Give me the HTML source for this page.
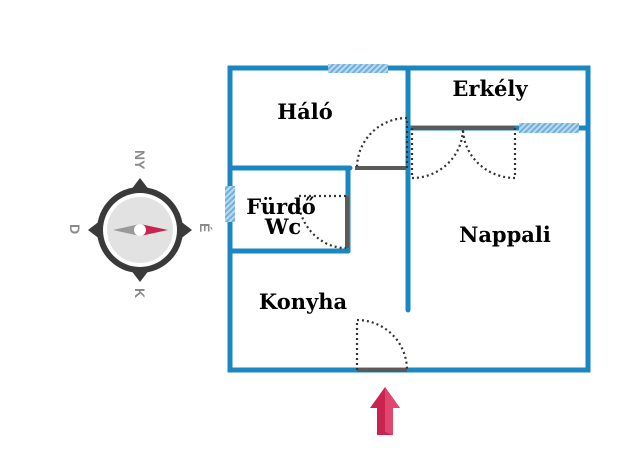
<!DOCTYPE html>
<html><head><style>
html,body{margin:0;padding:0;background:#fff;width:640px;height:470px;overflow:hidden}
svg text{font-family:"DejaVu Serif","Liberation Serif",serif;font-weight:bold}
</style></head><body>
<svg width="640" height="470" viewBox="0 0 640 470" xmlns="http://www.w3.org/2000/svg">
<defs>
<pattern id="h" width="4" height="4" patternUnits="userSpaceOnUse" patternTransform="rotate(45)">
<rect width="4" height="4" fill="#bcd9ee"/><rect width="2" height="4" fill="#6fb0de"/>
</pattern>
</defs>
<g stroke="#1a87c2" stroke-width="5" fill="none" stroke-linecap="round">
<rect x="230" y="68" width="358" height="302"/>
<line x1="408" y1="68" x2="408" y2="310"/>
<line x1="230" y1="168" x2="350" y2="168"/>
<line x1="348" y1="168" x2="348" y2="251"/>
<line x1="230" y1="251" x2="348" y2="251"/>
<line x1="408" y1="128" x2="588" y2="128"/>
</g>
<rect x="328" y="64" width="60" height="9" fill="url(#h)"/>
<rect x="519" y="123" width="60" height="10" fill="url(#h)"/>
<rect x="225" y="186" width="10" height="36" fill="url(#h)"/>
<g stroke="#5a5a5a" stroke-width="4">
<line x1="355" y1="168" x2="406" y2="168"/>
<line x1="412" y1="128" x2="515" y2="128"/>
<line x1="347" y1="196" x2="347" y2="248"/>
<line x1="357" y1="370" x2="407" y2="370"/>
</g>
<g stroke="#333" stroke-width="2.2" fill="none" stroke-dasharray="2 3">
<path d="M357,370 V320 A50,50 0 0 1 407,370"/>
<path d="M407,168 V118 A50,50 0 0 0 357,168"/>
<path d="M412,128 V178 A51,50 0 0 0 463,128"/>
<path d="M515,128 V178 A52,50 0 0 1 463,128"/>
<path d="M346,196 H298 A48,52 0 0 0 346,248"/>
</g>
<text x="305" y="119" font-size="21" text-anchor="middle">Háló</text>
<text x="490" y="96" font-size="21" text-anchor="middle">Erkély</text>
<text x="281" y="214" font-size="21" text-anchor="middle">Fürdő</text>
<text x="283" y="234" font-size="21" text-anchor="middle">Wc</text>
<text x="505" y="242" font-size="21" text-anchor="middle">Nappali</text>
<text x="303" y="309" font-size="21" text-anchor="middle">Konyha</text>
<polygon points="385,387 400,408 393,408 393,435 377,435 377,408 370,408" fill="#c8244f"/>
<polygon points="385,387 400,408 393,408 393,435 385,432" fill="#e0466e"/>
<g>
<polygon points="140,178 153,195 127,195" fill="#3a3a3a"/>
<polygon points="140,282 153,265 127,265" fill="#3a3a3a"/>
<polygon points="88,230 105,217 105,243" fill="#3a3a3a"/>
<polygon points="192,230 175,217 175,243" fill="#3a3a3a"/>
<circle cx="140" cy="230" r="43" fill="#3a3a3a"/>
<circle cx="140" cy="230" r="37" fill="#fff"/>
<circle cx="140" cy="230" r="33" fill="#e2e2e2"/>
<polygon points="113,230 140,224 140,236" fill="#999"/>
<polygon points="168,230 140,224 140,236" fill="#c8244f"/>
<circle cx="140" cy="230" r="6" fill="#fff"/>
</g>
<g fill="#8a8a8a" font-size="14">
<text transform="translate(135,150) rotate(90)" style="font-family:'Liberation Sans',sans-serif;font-weight:bold">NY</text>
<text transform="translate(135,288) rotate(90)" style="font-family:'Liberation Sans',sans-serif;font-weight:bold">K</text>
<text transform="translate(70,224) rotate(90)" style="font-family:'Liberation Sans',sans-serif;font-weight:bold">D</text>
<text transform="translate(200,223) rotate(90)" style="font-family:'Liberation Sans',sans-serif;font-weight:bold">É</text>
</g>
</svg>
</body></html>
